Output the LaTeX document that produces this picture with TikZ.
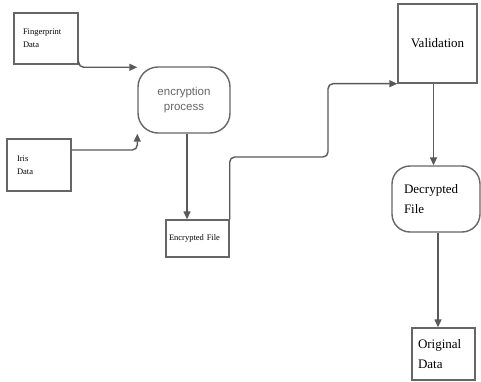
\documentclass[tikz,border=0pt]{standalone}
\usepackage{fontspec}
\setmainfont{Liberation Serif}
\newfontfamily\procfont{Liberation Sans}
\usepackage{tikz}
\usetikzlibrary{arrows.meta,positioning,calc}

\begin{document}
\begin{tikzpicture}[x=1pt,y=-1pt,
  box/.style={draw=black!60,line width=1.4pt,inner ysep=2pt},
  smalltext/.style={font=\fontsize{8.5}{13}\selectfont},
  bigtext/.style={font=\fontsize{13}{19.5}\selectfont},
  flow/.style={draw=black!65,line width=1.4pt,rounded corners=5pt,
    -{Triangle[length=8pt,width=7pt]}}]
  \useasboundingbox[fill=white] (0,0) rectangle (481,382);
  % inputs
  \node[box,smalltext,align=left,inner xsep=9pt,text width=46pt,minimum height=51pt]
    (finger) at (46,38.5) {Fingerprint\\Data};
  \node[box,smalltext,align=left,inner xsep=10pt,text width=44pt,minimum height=52pt]
    (iris) at (39,165) {Iris\\Data};
  % encryption step
  \node[box,rounded corners=20pt,minimum width=92pt,minimum height=66pt,align=center,
    font=\procfont\fontsize{11.5}{15}\selectfont,text=black!60]
    (encrypt) at (184,100) {encryption\\process};
  \node[box,smalltext,align=left,inner xsep=3pt,text width=57pt,minimum height=37pt]
    (encfile) at (197.5,238.5) {Encrypted File\\[4pt]};
  % validation and decryption
  \node[box,bigtext,minimum width=79pt,minimum height=79pt] (valid) at (437.5,43.5) {Validation};
  \node[box,bigtext,rounded corners=18pt,align=left,inner xsep=12pt,text width=64pt,
    minimum height=66pt] (decfile) at (436,199) {Decrypted\\File};
  \node[box,bigtext,align=left,inner xsep=6pt,text width=51pt,minimum height=52pt]
    (orig) at (443.5,354) {Original\\Data};
  \coordinate (bend) at (328,157);
  % connectors
  \draw[flow] (finger.south east) |- ([yshift=-1pt]encrypt.north west);
  \draw[flow] ([yshift=15pt]iris.east) -| (encrypt.south west);
  \draw[flow] ([xshift=3pt]encrypt.south) -- ([xshift=3pt]encrypt.south |- encfile.north);
  \draw[flow] (encfile.north east) |- (bend) |- (valid.south west);
  \draw[flow] ([xshift=-4pt]valid.south) -- ([xshift=-4pt]valid.south |- decfile.north);
  \draw[flow] ([xshift=2pt]decfile.south) -- ([xshift=2pt]decfile.south |- orig.north);
\end{tikzpicture}
\end{document}
